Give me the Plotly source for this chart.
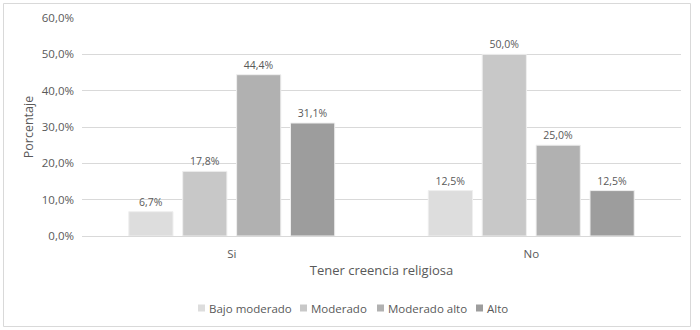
import plotly.graph_objects as go

categories = ["Si", "No"]
series_names = ["Bajo moderado", "Moderado", "Moderado alto", "Alto"]
values = {
    "Bajo moderado": [6.7, 12.5],
    "Moderado": [17.8, 50.0],
    "Moderado alto": [44.4, 25.0],
    "Alto": [31.1, 12.5],
}
colors = ["#DDDDDD", "#C8C8C8", "#B1B1B1", "#9D9D9D"]
y_ticks = [0, 10, 20, 30, 40, 50, 60]
y_ticktext = ["0,0%", "10,0%", "20,0%", "30,0%", "40,0%", "50,0%", "60,0%"]
legend_text_x = [208, 310, 387, 486]   # legend label left edges (px)

FONT = "Open Sans"
TXT = "#595959"

fig = go.Figure()
for name, col in zip(series_names, colors):
    fig.add_trace(go.Bar(
        x=categories, y=values[name], name=name,
        marker=dict(color=col, line=dict(color="#EFEFEF", width=1)),
        texttemplate="%{y:.1f}%", textposition="outside",
        textfont=dict(family=FONT, size=10.5, color=TXT),
        cliponaxis=False, showlegend=False,
    ))

L, R, T, B = 82, 19, 18, 94
W, H = 700, 330
pw = W - L - R
ph = H - T - B

def px_x(x):
    return (x - L) / pw

def px_y(y):
    return (H - B - y) / ph

shapes = [dict(
    type="rect", xref="paper", yref="paper",
    x0=px_x(3.5), x1=px_x(690.5), y0=px_y(326.5), y1=px_y(3.5),
    line=dict(color="#D9D9D9", width=1), fillcolor="rgba(0,0,0,0)", layer="below",
)]
annotations = []
ly = 308
for name, col, tx in zip(series_names, colors, legend_text_x):
    shapes.append(dict(
        type="rect", xref="paper", yref="paper",
        x0=px_x(tx - 10), x1=px_x(tx - 3), y0=px_y(ly + 3.5), y1=px_y(ly - 3.5),
        line=dict(width=0), fillcolor=col,
    ))
    annotations.append(dict(
        text=name, xref="paper", yref="paper", x=px_x(tx), y=px_y(ly),
        xanchor="left", yanchor="middle", showarrow=False,
        font=dict(family=FONT, size=11.5, color=TXT),
        xshift=-1,
    ))

fig.update_layout(
    width=W, height=H,
    margin=dict(l=L, r=R, t=T, b=B, autoexpand=False),
    paper_bgcolor="white", plot_bgcolor="white",
    separators=",.",
    barmode="group", bargap=0.28, bargroupgap=0.18,
    font=dict(family=FONT, size=11, color=TXT),
    showlegend=False,
    xaxis=dict(
        showgrid=False, showline=True, linecolor="#D9D9D9", linewidth=1,
        ticks="", tickfont=dict(size=11.5, color=TXT), ticklabelstandoff=7,
        title=dict(text="Tener creencia religiosa", font=dict(size=13, color=TXT), standoff=6),
    ),
    yaxis=dict(
        range=[0, 60], tickvals=y_ticks, ticktext=y_ticktext,
        showgrid=True, gridcolor="#D9D9D9", gridwidth=1, zeroline=False,
        ticks="", tickfont=dict(size=11.5, color=TXT), ticklabelstandoff=7,
        title=dict(text="Porcentaje", font=dict(size=12.5, color=TXT), standoff=5),
    ),
    shapes=shapes,
    annotations=annotations,
)

fig.write_html("out.html", post_script="document.body.style.margin='0';",
               config={"displayModeBar": False})
